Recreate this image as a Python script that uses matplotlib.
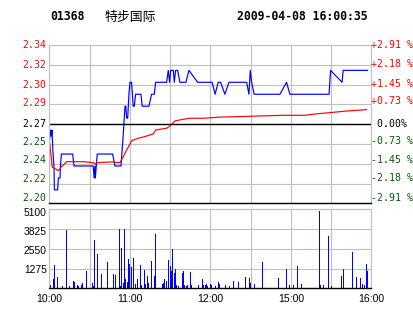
import matplotlib
matplotlib.use('Agg')
import matplotlib.pyplot as plt
from matplotlib.transforms import ScaledTranslation

# ---- data ----
code = "01368"
name = "特步国际"
stamp = "2009-04-08 16:00:35"
prev_close = 2.275

# minutes since 10:00 (trading time, lunch break removed)
price_t = [0, 1, 1.5, 2, 2.8, 3.5, 3.8, 6.2, 6.8, 8.0,
           8.3, 9.0, 17.4, 18.4, 32.7, 33.4, 34.0, 34.3, 35.0, 35.7,
           47.2, 48.9, 53.4, 54.0, 54.7, 55.3, 55.8, 56.4, 57.0, 57.6,
           58.4, 59.3, 60.1, 61.3, 62.5, 63.3, 64.3, 68.3, 69.2, 74.2,
           76.2, 78.2, 79.2, 87.4, 88.6, 89.6, 90.4, 92.4, 93.1, 94.1,
           95.6, 97.3, 101.8, 104.0, 110.5, 121.3, 123.5, 125.8, 127.6, 130.8,
           133.8, 147.0, 148.7, 149.7, 150.7, 152.6, 171.8, 176.7, 179.2, 208.4,
           209.5, 218.1, 218.9, 237.0]
price_v = [2.26, 2.27, 2.265, 2.27, 2.25, 2.24, 2.22, 2.22, 2.23, 2.23,
           2.24, 2.25, 2.25, 2.24, 2.24, 2.23, 2.24, 2.23, 2.24, 2.25,
           2.25, 2.24, 2.24, 2.25, 2.26, 2.27, 2.28, 2.29, 2.29, 2.28,
           2.28, 2.30, 2.31, 2.31, 2.29, 2.29, 2.30, 2.30, 2.29, 2.29,
           2.30, 2.30, 2.31, 2.31, 2.32, 2.31, 2.32, 2.32, 2.31, 2.32,
           2.32, 2.31, 2.31, 2.32, 2.31, 2.31, 2.30, 2.31, 2.31, 2.30,
           2.31, 2.31, 2.30, 2.32, 2.31, 2.30, 2.30, 2.31, 2.30, 2.30,
           2.32, 2.31, 2.32, 2.32]

avg_t = [0, 2.2, 5.5, 6.7, 9.2, 13.0, 25.3, 32.8, 34.0, 36.5,
         46.5, 52.6, 55.1, 57.6, 60.1, 61.3, 66.3, 71.2, 77.4, 79.2,
         87.4, 89.9, 93.6, 99.8, 104.7, 116.0, 125.8, 149.4, 174.2, 190.4,
         197.8, 208.9, 221.4, 236.3]
avg_v = [2.262, 2.239, 2.237, 2.236, 2.2395, 2.2436, 2.2436, 2.2428, 2.2417, 2.2428,
         2.2434, 2.2428, 2.2478, 2.2534, 2.2584, 2.2612, 2.2632, 2.2646, 2.2668, 2.2701,
         2.2716, 2.2735, 2.2777, 2.2791, 2.2799, 2.2800, 2.2808, 2.2816, 2.2824, 2.2824,
         2.2835, 2.2846, 2.2860, 2.2871]

vol_t = [0, 1, 3, 4, 6, 10, 13, 15, 18, 19,
         21, 22, 24, 25, 28, 32, 33, 34, 36, 39,
         43, 48, 49, 52, 53, 54, 55, 56, 57, 58,
         59, 60, 61, 63, 64, 66, 68, 69, 71, 72,
         73, 74, 76, 78, 79, 84, 85, 86, 87, 89,
         90, 91, 92, 93, 94, 95, 96, 99, 100, 101,
         102, 103, 105, 106, 111, 114, 115, 116, 117, 118,
         120, 121, 124, 126, 127, 131, 134, 137, 141, 146,
         149, 150, 153, 159, 171, 177, 179, 182, 185, 188,
         201, 202, 204, 208, 210, 218, 219, 226, 229, 232,
         233, 235, 236, 237]
vol_v = [685, 215, 600, 1505, 750, 170, 3765, 150, 470, 400,
         215, 150, 215, 320, 1140, 320, 150, 3120, 2215, 925,
         1680, 925, 860, 3830, 150, 2580, 320, 3830, 600, 390,
         1890, 1570, 1355, 1960, 260, 600, 1505, 215, 1185, 280,
         800, 320, 1760, 800, 3505, 280, 320, 600, 470, 1830,
         1440, 1100, 2540, 1000, 1245, 215, 150, 970, 1120, 215,
         150, 215, 1035, 215, 215, 600, 215, 215, 260, 150,
         260, 215, 150, 410, 260, 215, 150, 475, 410, 730,
         665, 325, 260, 1700, 665, 1245, 215, 215, 1440, 260,
         4990, 215, 215, 3375, 150, 795, 1245, 2345, 730, 665,
         260, 215, 1570, 1140]

price_labels = ['2.20', '2.22', '2.24', '2.25', '2.27', '2.29', '2.30', '2.32', '2.34']
pct_labels = ['-2.91 %', '-2.18 %', '-1.45 %', '-0.73 %', ' 0.00%',
              '+0.73 %', '+1.45 %', '+2.18 %', '+2.91 %']
vol_ticks = [1275, 2550, 3825, 5100]
time_ticks = [0, 60, 120, 180, 240]
time_labels = ['10:00', '11:00', '12:00', '15:00', '16:00']

# ---- layout (pixel boxes) ----
W, H = 414, 314
RED, GREEN, GRID = '#ff0000', '#005a00', '#c0c0c0'
MONO = 'DejaVu Sans Mono'
SANS = 'Liberation Sans'
# labels in the reference sit a few pixels off their gridline (bottom -> top)
left_lift = [5, 5, 3.7, 1.7, 0, 1.3, 0, 0, 0]
right_lift = [5, 5.5, 4, 3.3, 0, 3, 1, 1, 0]
vol_lift = [-1, -2.5, -3, -4]


def box(l, t, r, b):
    return [l / W, 1 - b / H, (r - l) / W, (b - t) / H]


def shift(dx, dy):
    return ScaledTranslation(dx / 100, dy / 100, fig.dpi_scale_trans)


fig = plt.figure(figsize=(W / 100, H / 100), dpi=100)
fig.patch.set_facecolor('white')
ax = fig.add_axes(box(49.3, 45, 371.5, 203.3))
axv = fig.add_axes(box(49.3, 209.3, 371.5, 288.3))

# header
ty = 1 - 17 / H
fig.text(50 / W, ty, code, family=MONO, weight='bold', fontsize=8.3, va='center')
fig.text(105 / W, ty, name, family=['Noto Sans CJK SC', 'DejaVu Sans'], fontsize=9.3, va='center')
fig.text(237 / W, ty, stamp, family=MONO, weight='bold', fontsize=8.3, va='center')

# ---- price panel ----
step = 0.0291 / 4
levels = [prev_close * (1 + k * step) for k in range(-4, 5)]
lab_colors = [GREEN] * 4 + ['black'] + [RED] * 4

ax.plot(price_t, price_v, color='#0000ff', lw=0.85)
ax.plot(avg_t, avg_v, color=RED, lw=0.85)
ax.axhline(prev_close, color='black', lw=1.0)

ax.set_xlim(0, 240)
ax.set_ylim(levels[0], levels[-1])
ax.set_xticks(range(0, 241, 30))
ax.set_xticklabels([])
ax.set_yticks(levels)
ax.set_yticklabels([])
ax.tick_params(length=0)
ax.grid(True, color=GRID, lw=0.8)
for s in ['top', 'left', 'right']:
    ax.spines[s].set_color(GRID)
    ax.spines[s].set_linewidth(0.8)
ax.spines['bottom'].set_color('black')
ax.spines['bottom'].set_linewidth(1.0)

ytr = ax.get_yaxis_transform()
for y, txt, c, d in zip(levels, price_labels, lab_colors, left_lift):
    ax.text(0.0, y, txt, transform=ytr + shift(-2.5, d), ha='right',
            va='center', color=c, family=MONO, fontsize=7.1, clip_on=False)
for y, txt, c, d in zip(levels, pct_labels, lab_colors, right_lift):
    ax.text(1.0, y, txt, transform=ytr + shift(0, d), ha='left',
            va='center', color=c, family=MONO, fontsize=7.1, clip_on=False)

# ---- volume panel ----
axv.bar(vol_t, vol_v, width=0.75, color='#0000ff', linewidth=0, antialiased=False)
axv.set_xlim(0, 240)
axv.set_ylim(0, 5100)
axv.set_yticks(vol_ticks)
axv.set_yticklabels([])
vtr = axv.get_yaxis_transform()
for v, d in zip(vol_ticks, vol_lift):
    axv.text(0.0, v, str(v), transform=vtr + shift(-2.5, d), ha='right', va='center',
             family=SANS, fontsize=7.4, clip_on=False)
axv.set_xticks(range(0, 241, 30))
axv.set_xticklabels([time_labels[time_ticks.index(t)] if t in time_ticks else ''
                     for t in range(0, 241, 30)], family=SANS, fontsize=7.6)
axv.tick_params(length=0)
axv.tick_params(axis='x', pad=4)
axv.grid(True, color=GRID, lw=0.8)
axv.set_axisbelow(True)
for s in ['top', 'left', 'right']:
    axv.spines[s].set_color(GRID)
    axv.spines[s].set_linewidth(0.8)
axv.spines['bottom'].set_color('black')
axv.spines['bottom'].set_linewidth(1.0)

fig.savefig('out.png', dpi=100, facecolor='white')
